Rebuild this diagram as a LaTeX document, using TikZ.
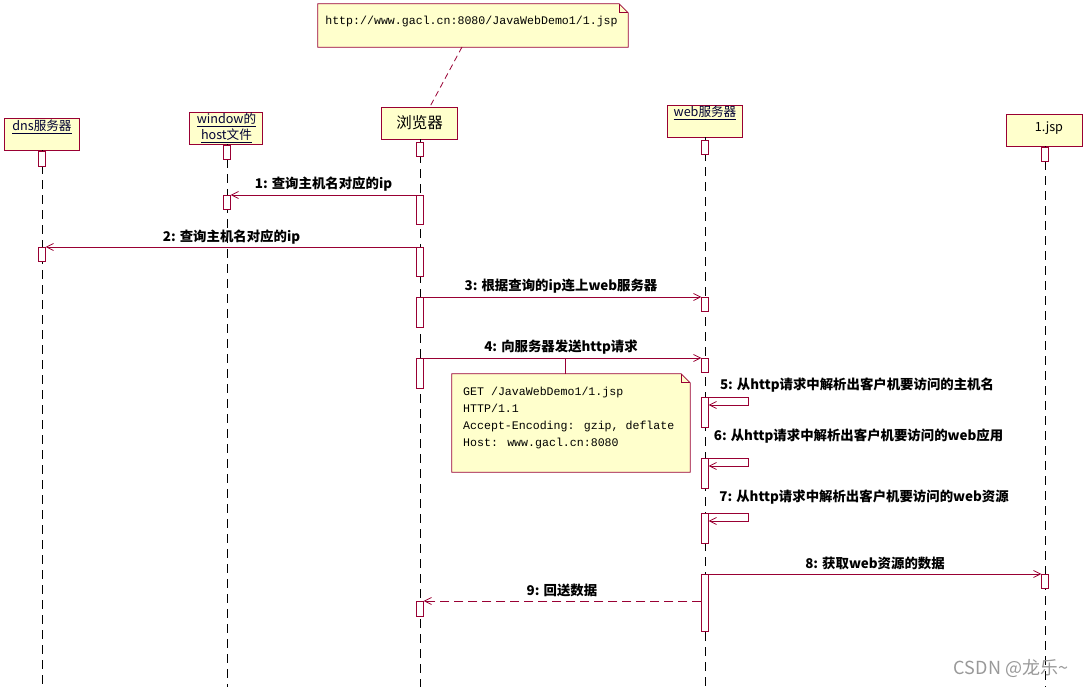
\documentclass[tikz,border=0pt]{standalone}
\usepackage{fontspec}
\setmainfont{Noto Sans CJK SC}
\newfontfamily\monof{Liberation Mono}
\usetikzlibrary{arrows.meta,backgrounds,calc}
\definecolor{ln}{HTML}{990033}
\definecolor{nf}{HTML}{FFFFCC}
\definecolor{tx}{HTML}{000033}
\tikzset{
  objbox/.style={draw=ln,fill=nf,line width=0.8pt,inner sep=0pt},
  actbox/.style={draw=ln,fill=white,line width=0.8pt,minimum width=6.5pt,inner sep=0pt,anchor=north},
  life/.style={draw=black,line width=0.8pt,dash pattern=on 9pt off 6pt},
  msg/.style={draw=ln,line width=0.8pt,-{Straight Barb[length=7pt,width=7pt]}},
  ret/.style={msg,dash pattern=on 9pt off 5pt},
  lbl/.style={font=\bfseries\fontsize{13.4}{15}\selectfont,inner sep=0pt},
  boxtxt/.style={font=\fontsize{12.6}{14}\selectfont,text=tx,inner sep=0pt},
  notetxt/.style={font=\monof\fontsize{11.6}{17}\selectfont,inner sep=0pt,align=left},
  notebox/.style={inner sep=0pt},
}
\newcommand\actv[4]{\node[actbox,minimum height={(#4-#3)*1pt}] (#1) at (#2,#3) {};}
\begin{document}
\begin{tikzpicture}[x=1pt,y=-1pt]
\useasboundingbox (0,0) rectangle (1086,687);
% objects
\node[objbox,minimum width=75pt,minimum height=32pt] (dns) at (41.5,134) {};
\node[objbox,minimum width=73pt,minimum height=32pt] (win) at (225.5,128) {};
\node[objbox,minimum width=76pt,minimum height=32pt] (br) at (419,123) {};
\node[objbox,minimum width=75pt,minimum height=32pt] (ws) at (704.5,121) {};
\node[objbox,minimum width=76pt,minimum height=32pt] (js) at (1044,130) {};
\node[boxtxt] (dnst) at (42,127) {\underline{dns服务器}};
\node[boxtxt] (wint1) at (226.5,120) {\underline{window的}};
\node[boxtxt] (wint2) at (226.5,135.5) {\underline{host文件}};
\node[font=\fontsize{15.5}{17}\selectfont,text=black,inner sep=0pt] (brt) at (419.5,123) {浏览器};
\node[boxtxt] (wst) at (705,113) {\underline{web服务器}};
\node[font=\fontsize{12.6}{14}\selectfont,text=black,inner sep=0pt] (jst) at (1049,128) {1.jsp};
% lifeline ends
\coordinate (dnsE) at (42,687);
\coordinate (winE) at (227,687);
\coordinate (brE) at (420,687);
\coordinate (wsE) at (705,687);
\coordinate (jsE) at (1045,687);
\draw[life] (dnsE |- dns.south) -- (dnsE);
\draw[life] (winE |- win.south) -- (winE);
\draw[life] (brE |- br.south) -- (brE);
\draw[life] (wsE |- ws.south) -- (wsE);
\draw[life] (jsE |- js.south) -- (jsE);
% activations
\actv{d1}{42}{151}{166}
\actv{d2}{42}{247}{261}
\actv{w1}{227}{145}{159}
\actv{w2}{227}{195}{209}
\actv{b1}{420}{142}{156}
\actv{b2}{420}{195}{224}
\actv{b3}{420}{247}{276}
\actv{b4}{420}{297}{327}
\actv{b5}{420}{358}{388}
\actv{b6}{420}{601}{616}
\actv{s1}{705}{140}{154}
\actv{s2}{705}{297}{311}
\actv{s3}{705}{358}{372}
\actv{s4}{705}{397}{427}
\actv{s5}{705}{458}{488}
\actv{s6}{705}{513}{543}
\actv{s7}{705}{574}{631}
\actv{j1}{1045}{147}{161}
\actv{j2}{1045}{574}{588}
% messages
\draw[msg] (b2.north west) -- (w2.north east);
\draw[msg] (b3.north west) -- (d2.north east);
\draw[msg] (b4.north east) -- (s2.north west);
\draw[msg] (b5.north east) -- (s3.north west);
\draw[msg] (s4.north east) -- ++(40,0) -- ++(0,8) -- ($(s4.north east)+(0,8)$);
\draw[msg] (s5.north east) -- ++(40,0) -- ++(0,8) -- ($(s5.north east)+(0,8)$);
\draw[msg] (s6.north east) -- ++(40,0) -- ++(0,8) -- ($(s6.north east)+(0,8)$);
\draw[msg] (s7.north east) -- (j2.north west);
\draw[ret] (b6.north east -| s7.west) -- (b6.north east);
% labels
\node[lbl] (l1) at (323.5,184) {1: 查询主机名对应的ip};
\node[lbl] (l2) at (231.5,237) {2: 查询主机名对应的ip};
\node[lbl] (l3) at (561,286) {3: 根据查询的ip连上web服务器};
\node[lbl] (l4) at (561,347) {4: 向服务器发送http请求};
\node[lbl] (l5) at (857,385) {5: 从http请求中解析出客户机要访问的主机名};
\node[lbl] (l6) at (858.5,436) {6: 从http请求中解析出客户机要访问的web应用};
\node[lbl] (l7) at (864,497) {7: 从http请求中解析出客户机要访问的web资源};
\node[lbl] (l8) at (875,563) {8: 获取web资源的数据};
\node[lbl] (l9) at (562,590) {9: 回送数据};
% top note
\node[notebox,minimum width=310pt,minimum height=43pt] (n1) at (473,25.5) {};
\node[notetxt] (n1t) at (471.5,22) {http://www.gacl.cn:8080/JavaWebDemo1/1.jsp};
% GET note
\node[notebox,minimum width=238pt,minimum height=98pt] (n2) at (571,423) {};
\node[notetxt,anchor=north west] (n2t) at (463,387) {GET /JavaWebDemo1/1.jsp\\HTTP/1.1\\Accept-Encoding: gzip, deflate\\Host: www.gacl.cn:8080};
\begin{scope}[on background layer]
\fill[white] (0,0) rectangle (1086,687);
\filldraw[fill=nf,draw=ln,line width=0.8pt] (n1.north west) -- ([xshift=-9pt]n1.north east) -- ([yshift=-9pt]n1.north east) -- (n1.south east) -- (n1.south west) -- cycle;
\draw[ln,line width=0.8pt] ([xshift=-9pt]n1.north east) |- ([yshift=-9pt]n1.north east);
\filldraw[fill=nf,draw=ln,line width=0.8pt] (n2.north west) -- ([xshift=-9pt]n2.north east) -- ([yshift=-9pt]n2.north east) -- (n2.south east) -- (n2.south west) -- cycle;
\draw[ln,line width=0.8pt] ([xshift=-9pt]n2.north east) |- ([yshift=-9pt]n2.north east);
\end{scope}
\coordinate (n1c) at (462,47);
\draw[draw=ln,line width=0.8pt,dash pattern=on 6pt off 4pt] (n1c) -- (br.north -| 430,0);
\coordinate (c4) at (565,358);
\draw[ln,line width=0.8pt] (c4) -- (c4 |- n2.north);
% watermark
\node[font=\fontsize{18}{20}\selectfont,text=black!40,inner sep=0pt] (wm) at (1011,668) {CSDN @龙乐\textasciitilde};
\end{tikzpicture}
\end{document}
